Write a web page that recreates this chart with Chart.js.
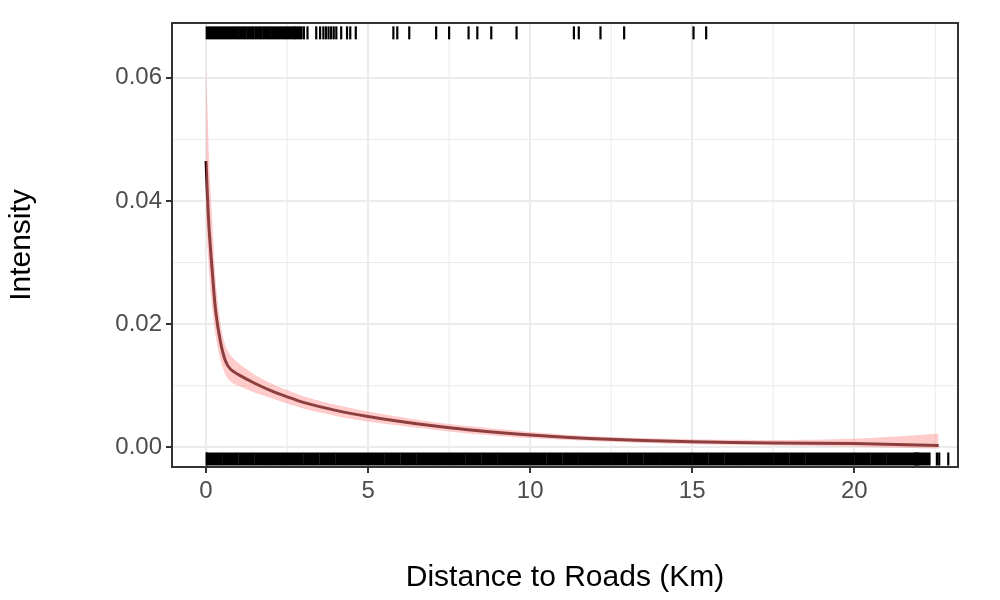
<!DOCTYPE html><html><head><meta charset="utf-8">
<script src="https://cdn.jsdelivr.net/npm/chart.js@4/dist/chart.umd.min.js"></script>
<style>body{margin:0;background:#fff}</style></head><body><canvas id="c" width="1000" height="600"></canvas>
<script>
const xs =     [0,     0.05,  0.1,   0.2,   0.3,   0.45,  0.6,   0.75,  1.0,   1.5,   2.0,   2.5,   3.0,   4.0,   5.0,   6.0,   7.0,   8.0,   10.0,  12.0,  15.0,  17.5,  20.0,  22.6];
const fit =    [0.0465,0.040, 0.035, 0.028, 0.022, 0.017, 0.0140,0.0127,0.0118,0.0104,0.0092,0.0082,0.0073,0.0060,0.0050,0.0042,0.0035,0.0029,0.0020,0.0014,0.0009,0.0007,0.0006,0.0003];
const upper =  [0.062, 0.054, 0.046, 0.036, 0.027, 0.020, 0.0165,0.0150,0.0137,0.0118,0.0104,0.0093,0.0083,0.0069,0.0058,0.0049,0.0041,0.0035,0.0025,0.0018,0.0013,0.0012,0.0014,0.0022];
const lower =  [0.038, 0.032, 0.028, 0.022, 0.018, 0.014, 0.0118,0.0107,0.0100,0.0089,0.0080,0.0071,0.0063,0.0051,0.0042,0.0035,0.0029,0.0023,0.0015,0.0010,0.0005,0.0003,0.0001,-0.0002];
const topRugBlock = [0.12,0.37,0.62,0.87,1.12,1.37,1.62,1.87,2.12,2.37,2.62,2.85];
const topRug = [3.02,3.13,3.4,3.52,3.62,3.7,3.78,3.86,3.94,4.02,4.17,4.35,4.45,4.62,5.78,5.9,6.27,7.1,7.5,8.1,8.37,8.8,9.58,11.35,11.5,12.17,12.9,15.04,15.43];
const bottomRugBlock = [0.25,0.75,1.25,1.75,2.25,2.75,3.25,3.75,4.25,4.75,5.25,5.75,6.25,6.75,7.25,7.75,8.25,8.75,9.25,9.75,10.25,10.75,11.25,11.75,12.25,12.75,13.25,13.75,14.25,14.75,15.25,15.75,16.25,16.75,17.25,17.75,18.25,18.75,19.25,19.75,20.25,20.75,21.25,21.75,22.1];
const bottomRug = [0.02,22.55,22.62,22.9];
const xTicks = [0,5,10,15,20];
const yTicks = [0,0.02,0.04,0.06];
const xMinor = [2.5,7.5,12.5,17.5,22.5];
const yMinor = [0.01,0.03,0.05];
const TOPY = 0.0673, BOTY = -0.0019;
const pts = (a,y)=>a.map(v=>({x:v,y:y}));
const minorGrid = {id:'minor',beforeDatasetsDraw(ch){const c=ch.ctx,a=ch.chartArea,x=ch.scales.x,y=ch.scales.y;c.save();c.strokeStyle='#ebebeb';c.lineWidth=1;
 xMinor.forEach(v=>{const p=x.getPixelForValue(v);c.beginPath();c.moveTo(p,a.top);c.lineTo(p,a.bottom);c.stroke();});
 yMinor.forEach(v=>{const p=y.getPixelForValue(v);c.beginPath();c.moveTo(a.left,p);c.lineTo(a.right,p);c.stroke();});c.restore();},
 afterDraw(ch){const c=ch.ctx,a=ch.chartArea;c.save();c.strokeStyle='#333';c.lineWidth=2;c.strokeRect(a.left,a.top,a.right-a.left,a.bottom-a.top);c.restore();}};
const rug=(data,w)=>({type:'scatter',data:data,pointStyle:'line',rotation:90,radius:6.5,borderColor:'#000',borderWidth:w,showLine:false});
new Chart(document.getElementById('c'),{
 type:'line',
 data:{labels:xs,datasets:[
  {data:xs.map((x,i)=>({x,y:upper[i]})),borderWidth:0,pointRadius:0,fill:false,tension:0.3},
  {data:xs.map((x,i)=>({x,y:lower[i]})),borderWidth:0,pointRadius:0,fill:'-1',backgroundColor:'rgba(255,140,140,0.45)',tension:0.3},
  {data:xs.map((x,i)=>({x,y:fit[i]})),borderColor:'#300000',borderWidth:3,pointRadius:0,fill:false,tension:0.3},
  rug(pts(topRugBlock,TOPY),8.5), rug(pts(topRug,TOPY),2.2),
  rug(pts(bottomRugBlock,BOTY),16.5), rug(pts(bottomRug,BOTY),2.2)
 ]},
 options:{responsive:false,animation:false,devicePixelRatio:1,
  layout:{padding:{left:0,top:20,right:42,bottom:0}},
  plugins:{legend:{display:false},tooltip:{enabled:false}},
  scales:{
   x:{type:'linear',min:-1.05,max:23.2,afterBuildTicks(s){s.ticks=xTicks.map(v=>({value:v}));},afterFit(s){s.height=133;},
      grid:{color:'#ebebeb',lineWidth:2,drawTicks:true,tickLength:6,tickColor:'#333'},border:{display:false},
      ticks:{font:{family:'Liberation Sans',size:24},color:'#4d4d4d',padding:4,maxRotation:0},
      title:{display:true,text:'Distance to Roads (Km)',font:{family:'Liberation Sans',size:30},color:'#000',padding:{top:6}}},
   y:{min:-0.0032,max:0.0689,afterBuildTicks(s){s.ticks=yTicks.map(v=>({value:v}));},afterFit(s){s.width=172;},
      grid:{color:'#ebebeb',lineWidth:2,drawTicks:true,tickLength:6,tickColor:'#333'},border:{display:false},
      ticks:{font:{family:'Liberation Sans',size:24},color:'#4d4d4d',padding:4,callback:v=>v.toFixed(2)},
      title:{display:true,text:'Intensity',font:{family:'Liberation Sans',size:30},color:'#000',padding:{bottom:8}}}
  }},
 plugins:[minorGrid]
});
</script></body></html>
